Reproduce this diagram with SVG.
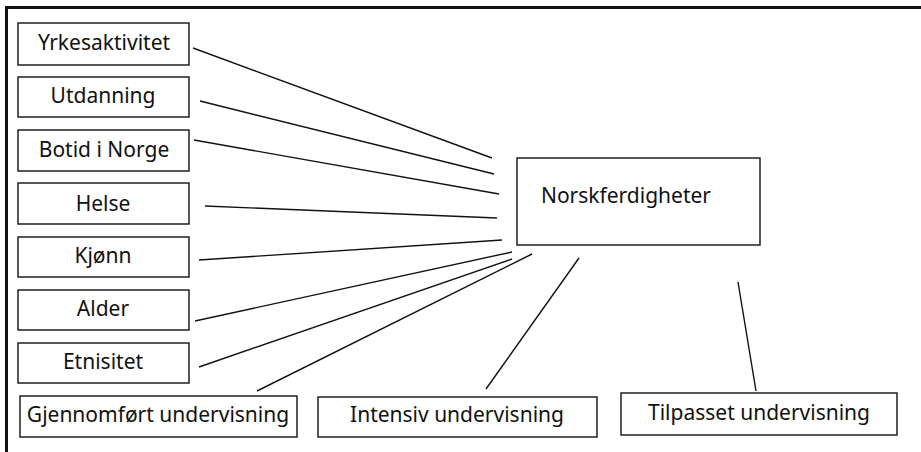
<svg xmlns="http://www.w3.org/2000/svg" width="921" height="452" viewBox="0 0 921 452">
<style>
.box{fill:#fff;stroke:#111;stroke-width:1.4}
.lbl{font-family:"Noto Sans","DejaVu Sans",sans-serif;font-size:21px;fill:#111;text-anchor:middle}
.ln{stroke:#111;stroke-width:1.4;fill:none}
.frame{stroke:#111;stroke-width:3;fill:none}
</style>
<rect width="921" height="452" fill="#fff"/>
<path class="frame" d="M6.5 452 V7.5 H921"/>
<g id="connectors">
<line class="ln" x1="193" y1="48" x2="492" y2="158"/>
<line class="ln" x1="200" y1="101" x2="494" y2="174"/>
<line class="ln" x1="194" y1="140" x2="499" y2="194"/>
<line class="ln" x1="205" y1="206" x2="497" y2="218"/>
<line class="ln" x1="199" y1="260" x2="502" y2="240"/>
<line class="ln" x1="195" y1="321" x2="512" y2="252"/>
<line class="ln" x1="199" y1="367" x2="512" y2="259"/>
<line class="ln" x1="257" y1="391" x2="532" y2="254"/>
<line class="ln" x1="579" y1="258" x2="486" y2="389"/>
<line class="ln" x1="738" y1="282" x2="756" y2="391"/>
</g>
<g id="yrkesaktivitet"><rect class="box" x="18" y="23" width="171" height="42"/><text class="lbl" x="104" y="50">Yrkesaktivitet</text></g>
<g id="utdanning"><rect class="box" x="18" y="77" width="171" height="40"/><text class="lbl" x="103" y="103">Utdanning</text></g>
<g id="botid"><rect class="box" x="18" y="130" width="171" height="41"/><text class="lbl" x="104" y="157">Botid i Norge</text></g>
<g id="helse"><rect class="box" x="18" y="183" width="171" height="41"/><text class="lbl" x="103" y="211">Helse</text></g>
<g id="kjonn"><rect class="box" x="18" y="237" width="171" height="40"/><text class="lbl" x="103" y="263">Kjønn</text></g>
<g id="alder"><rect class="box" x="18" y="290" width="171" height="40"/><text class="lbl" x="103" y="316">Alder</text></g>
<g id="etnisitet"><rect class="box" x="18" y="343" width="171" height="40"/><text class="lbl" x="103" y="369">Etnisitet</text></g>
<g id="norskferdigheter"><rect class="box" x="517" y="158" width="243" height="87"/><text class="lbl" x="626" y="203">Norskferdigheter</text></g>
<g id="gjennomfort"><rect class="box" x="20" y="396" width="277" height="41"/><text class="lbl" x="158" y="422">Gjennomført undervisning</text></g>
<g id="intensiv"><rect class="box" x="318" y="397" width="279" height="40"/><text class="lbl" x="457" y="422">Intensiv undervisning</text></g>
<g id="tilpasset"><rect class="box" x="621" y="393" width="276" height="42"/><text class="lbl" x="759" y="420">Tilpasset undervisning</text></g>
</svg>
